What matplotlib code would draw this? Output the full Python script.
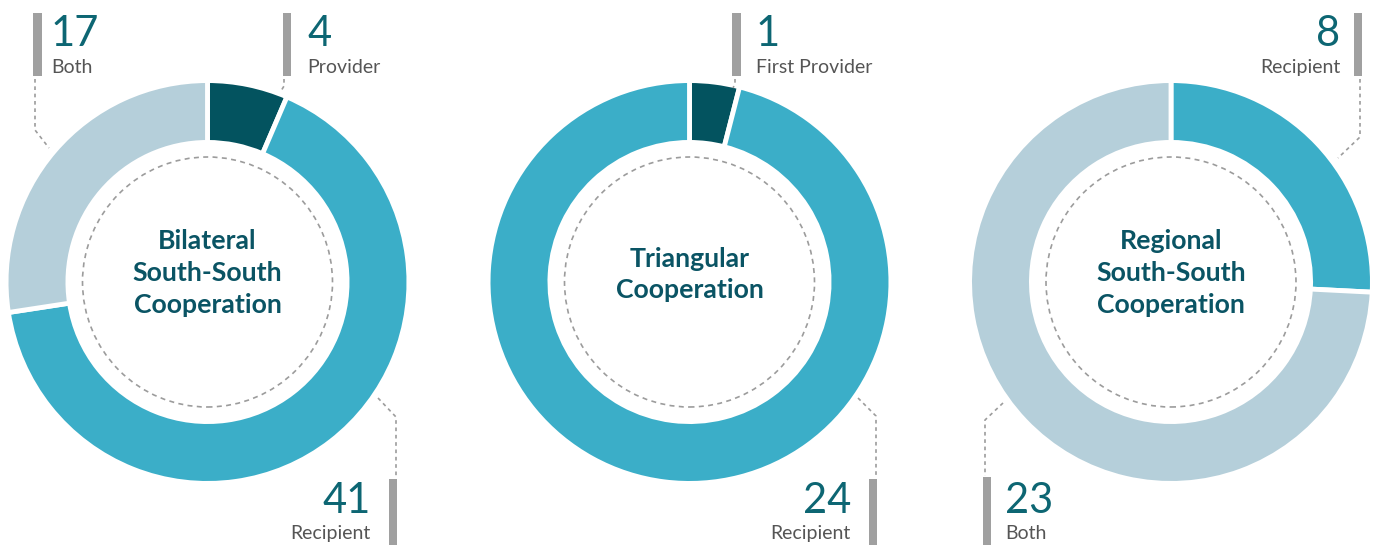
import matplotlib
matplotlib.use("Agg")
import matplotlib.pyplot as plt
from matplotlib.patches import Circle, Rectangle

# ---------------- data ----------------
bilateral_title = ["Bilateral", "South-South", "Cooperation"]
bilateral_labels = ["Provider", "Recipient", "Both"]
bilateral_values = [4, 41, 17]

triangular_title = ["Triangular", "Cooperation"]
triangular_labels = ["First Provider", "Recipient"]
triangular_values = [1, 24]

regional_title = ["Regional", "South-South", "Cooperation"]
regional_labels = ["Recipient", "Both"]
regional_values = [8, 23]

# ---------------- style ----------------
DARK = "#03535F"
MID = "#3BAEC8"
LIGHT = "#B5CFDA"
NUM_COL = "#0D6673"
TITLE_COL = "#0A5464"
LAB_COL = "#555555"
BAR_COL = "#A0A0A0"
DASH_COL = "#9C9C9C"

bilateral_colors = [DARK, MID, LIGHT]
triangular_colors = [DARK, MID]
regional_colors = [MID, LIGHT]

W, H, DPI = 1376, 545, 100
plt.rcParams["font.family"] = ["Lato", "DejaVu Sans"]

fig = plt.figure(figsize=(W / DPI, H / DPI), dpi=DPI)
fig.patch.set_facecolor("white")

R_OUT = 199.0
R_IN = 142.0
R_DASH = 125.0
EDGE_LW = 3.5
half_edge_px = EDGE_LW * DPI / 72 / 2
HALF = 210.0

donuts = [
    dict(cx=207.5, cy=282, values=bilateral_values, colors=bilateral_colors, title=bilateral_title),
    dict(cx=689.5, cy=282, values=triangular_values, colors=triangular_colors, title=triangular_title),
    dict(cx=1171.0, cy=282, values=regional_values, colors=regional_colors, title=regional_title),
]

for d in donuts:
    cx, cy = d["cx"], d["cy"]
    ax = fig.add_axes([(cx - HALF) / W, (H - cy - HALF) / H, 2 * HALF / W, 2 * HALF / H])
    r_o = R_OUT + half_edge_px
    r_i = R_IN - half_edge_px
    ax.pie(d["values"], colors=d["colors"], startangle=90, counterclock=False,
           radius=r_o, wedgeprops=dict(width=r_o - r_i, edgecolor="white", linewidth=EDGE_LW))
    ax.add_patch(Circle((0, 0), R_DASH, fill=False, edgecolor=DASH_COL,
                        linewidth=1.2, linestyle=(0, (3, 2.6))))
    ax.set_xlim(-HALF, HALF)
    ax.set_ylim(-HALF, HALF)
    ax.set_aspect("auto")
    ax.axis("off")

# overlay axes in pixel coordinates
ov = fig.add_axes([0, 0, 1, 1])
ov.set_xlim(0, W)
ov.set_ylim(H, 0)
ov.axis("off")
ov.patch.set_alpha(0)

# titles
for d in donuts:
    n = len(d["title"])
    offsets = [-33, -1, 31] if n == 3 else [-15, 16]
    for line, off in zip(d["title"], offsets):
        ov.text(d["cx"], d["cy"] + off, line, ha="center", va="baseline",
                fontsize=19.2, fontweight="bold", color=TITLE_COL)

# label callouts: (value, label, bar x0, bar x1, bar y0, bar y1, text x, ha, top?, leader)
callouts = [
    (bilateral_values[0], bilateral_labels[0], 283, 291, 13, 76, 307, "left", True,
     [(284, 79), (284, 86), (281, 91)]),
    (bilateral_values[1], bilateral_labels[1], 389, 397, 479, 545, 371, "right", False,
     [(378, 398), (396, 417), (396, 476)]),
    (bilateral_values[2], bilateral_labels[2], 33, 42, 13, 76, 51, "left", True,
     [(35, 79), (35, 130), (49, 148)]),
    (triangular_values[0], triangular_labels[0], 732, 741, 13, 76, 756, "left", True,
     [(735, 79), (735, 84), (733, 88)]),
    (triangular_values[1], triangular_labels[1], 869, 877, 479, 545, 851, "right", False,
     [(858, 398), (876, 416), (876, 476)]),
    (regional_values[0], regional_labels[0], 1354, 1362, 13, 76, 1340, "right", True,
     [(1360, 79), (1360, 137), (1338, 158)]),
    (regional_values[1], regional_labels[1], 983, 991, 477, 545, 1005, "left", False,
     [(1003, 403), (985, 420), (985, 476)]),
]

for val, lab, x0, x1, y0, y1, tx, ha, top, leader in callouts:
    ov.add_patch(Rectangle((x0, y0), x1 - x0, y1 - y0, facecolor=BAR_COL, edgecolor="none"))
    xs = [p[0] for p in leader]
    ys = [p[1] for p in leader]
    ov.plot(xs, ys, color=DASH_COL, linewidth=1.2, linestyle=(0, (2.2, 2.2)))
    nb, lb = (46, 73) if top else (513, 539)
    ov.text(tx, nb, str(val), ha=ha, va="baseline", fontsize=30, color=NUM_COL)
    ov.text(tx, lb, lab, ha=ha, va="baseline", fontsize=14, color=LAB_COL)

fig.savefig("out.png", dpi=DPI, facecolor="white")
